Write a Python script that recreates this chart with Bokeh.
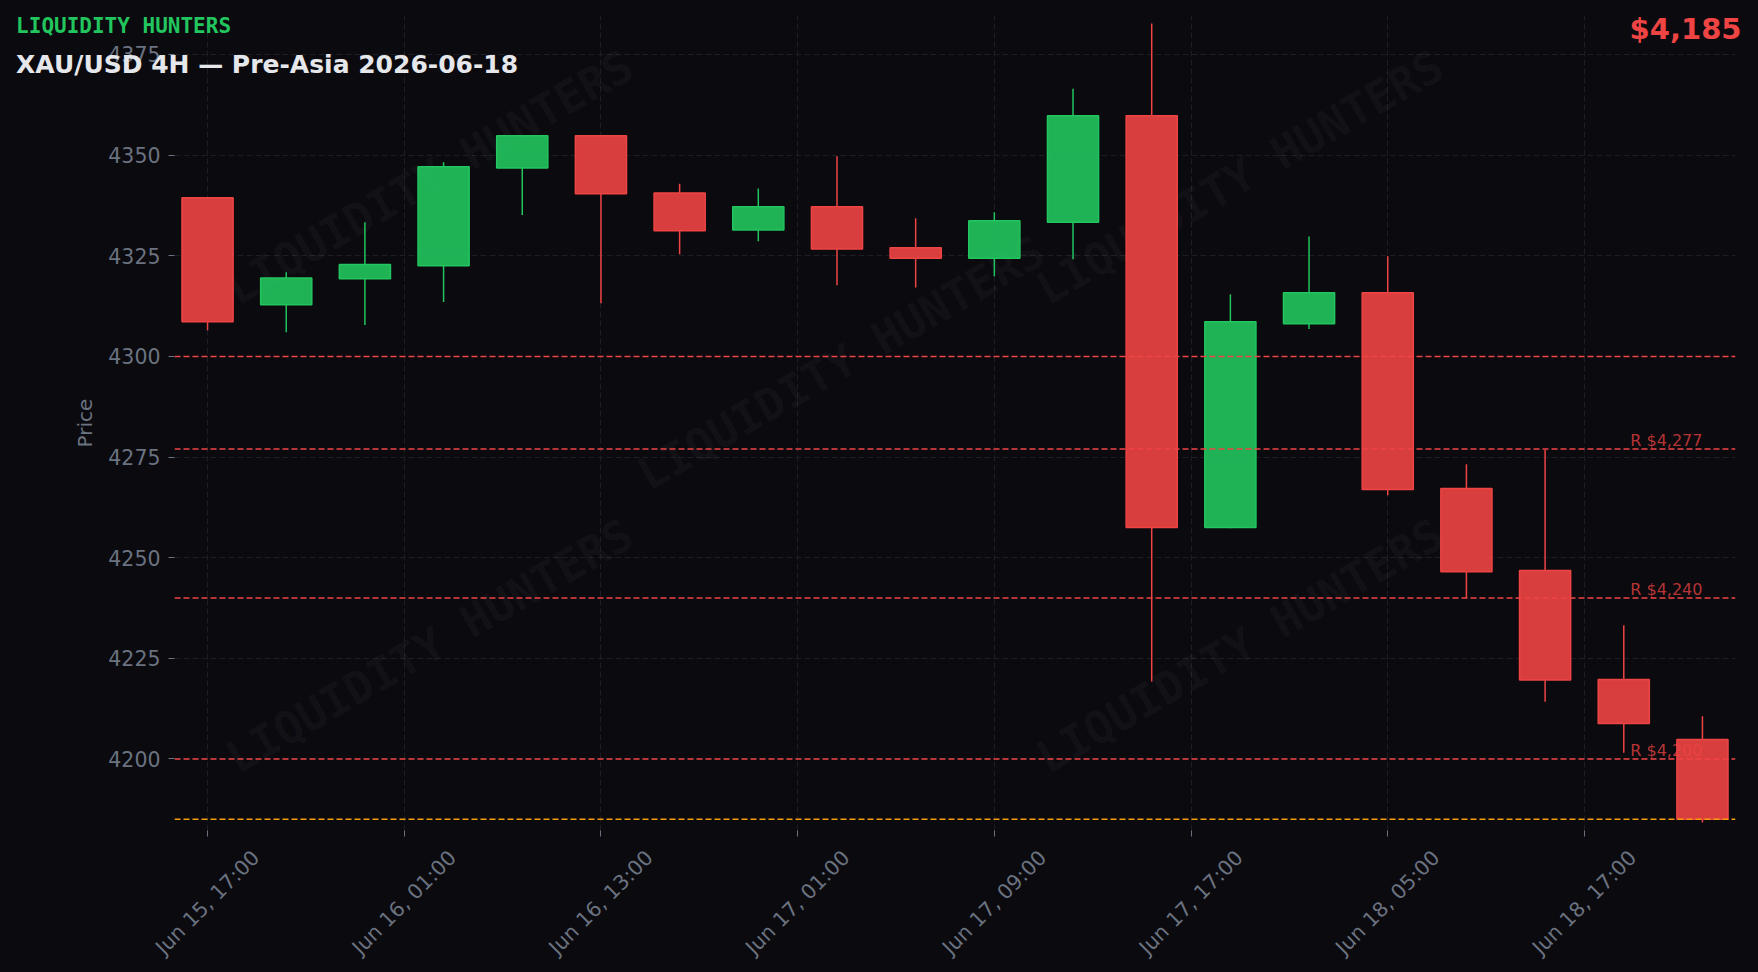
import math
from bokeh.plotting import figure
from bokeh.layouts import column
from bokeh.models import (ColumnDataSource, Range1d, Span, Label,
                          FixedTicker, SingleIntervalTicker)
from bokeh.embed import file_html
from bokeh.resources import INLINE

# ---------------- data ----------------
IDX = list(range(20))
OPEN = [4339.4, 4312.8, 4319.3, 4322.5, 4346.8, 4354.8, 4340.6, 4331.4, 4337.2, 4327.0,
        4324.4, 4333.3, 4359.8, 4257.5, 4308.1, 4315.8, 4267.2, 4246.8, 4219.7, 4204.8]
CLOSE = [4308.6, 4319.5, 4322.8, 4347.1, 4354.8, 4340.4, 4331.2, 4337.2, 4326.7, 4324.4,
         4333.7, 4359.8, 4257.5, 4308.6, 4315.8, 4266.9, 4246.5, 4219.6, 4208.8, 4185.0]
HIGH = [4339.5, 4320.9, 4333.3, 4348.2, 4354.9, 4354.9, 4342.9, 4341.7, 4349.7, 4334.3,
        4335.8, 4366.5, 4382.7, 4315.4, 4329.8, 4324.9, 4273.2, 4276.8, 4233.2, 4210.6]
LOW = [4306.5, 4306.0, 4307.8, 4313.5, 4335.1, 4313.2, 4325.4, 4328.6, 4317.7, 4317.1,
       4319.9, 4324.1, 4219.2, 4257.3, 4306.8, 4265.5, 4240.0, 4214.2, 4201.5, 4184.2]

TICK_POS = [0, 2.5, 5, 7.5, 10, 12.5, 15, 17.5]
TICK_LABELS = ["Jun 15, 17:00", "Jun 16, 01:00", "Jun 16, 13:00", "Jun 17, 01:00",
               "Jun 17, 09:00", "Jun 17, 17:00", "Jun 18, 05:00", "Jun 18, 17:00"]

ROUND_LEVELS = [4300]
RES_LEVELS = [4277, 4240, 4200]

BRAND = "LIQUIDITY HUNTERS"
TITLE = "XAU/USD 4H \u2014 Pre-Asia 2026-06-18"

# ---------------- styles / layout ----------------
W, H = 1758, 972
ML, MR, MT, MB = 174, 23, 15, 142
X0, X1 = -0.42, 19.42
BG = "#0a0a0f"
GREEN = "#22c55e"
RED = "#ef4444"
ORANGE = "#f59e0b"
GRAY = "#6b7280"
GRID = "#1d1d26"

top = [max(o, c) for o, c in zip(OPEN, CLOSE)]
bot = [min(o, c) for o, c in zip(OPEN, CLOSE)]
col = [GREEN if c >= o else RED for o, c in zip(OPEN, CLOSE)]
src = ColumnDataSource(dict(x=IDX, top=top, bot=bot, high=HIGH, low=LOW, color=col))

span_y = max(HIGH) - min(LOW)
ylo = min(LOW) - 0.01 * span_y
yhi = max(HIGH) + 0.01 * span_y

p = figure(width=W, height=H, output_backend="svg", toolbar_location=None,
           x_range=Range1d(X0, X1), y_range=Range1d(ylo, yhi),
           min_border_left=ML, min_border_right=MR, min_border_top=MT,
           min_border_bottom=MB)
p.background_fill_color = None
p.border_fill_color = None
p.outline_line_color = None

# grid
p.grid.grid_line_color = GRID
p.grid.grid_line_dash = "6 3"
p.grid.grid_line_width = 1

# y axis
p.yaxis.ticker = SingleIntervalTicker(interval=25, num_minor_ticks=0)
p.yaxis.axis_line_color = None
p.yaxis.major_tick_line_color = GRAY
p.yaxis.major_tick_out = 6
p.yaxis.major_tick_in = 0
p.yaxis.minor_tick_line_color = None
p.yaxis.major_label_text_font = "DejaVu Sans"
p.yaxis.major_label_text_font_size = "20.5px"
p.yaxis.major_label_text_color = GRAY
p.yaxis.major_label_standoff = 8
p.yaxis.axis_label = "Price"
p.yaxis.axis_label_text_font = "DejaVu Sans"
p.yaxis.axis_label_text_font_style = "normal"
p.yaxis.axis_label_text_font_size = "20px"
p.yaxis.axis_label_text_color = GRAY
p.yaxis.axis_label_standoff = 8

# x axis: tick marks only (labels drawn centred under the ticks on the overlay)
p.xaxis.ticker = FixedTicker(ticks=TICK_POS)
p.xaxis.major_label_overrides = {t: "" for t in TICK_POS}
p.xaxis.major_label_text_font_size = "0px"
p.xaxis.axis_line_color = None
p.xaxis.major_tick_line_color = GRAY
p.xaxis.major_tick_out = 6
p.xaxis.major_tick_in = 0
p.xaxis.minor_tick_line_color = None

# watermark
WM_POS = [(2.82, 4344.4), (13.12, 4344.4), (8.05, 4298.3), (2.82, 4228.0), (13.12, 4228.0)]
for wx, wy in WM_POS:
    p.add_layout(Label(x=wx, y=wy, text=BRAND, angle=math.pi / 6,
                       text_align="center", text_baseline="middle",
                       text_font="DejaVu Sans Mono", text_font_style="bold",
                       text_font_size="45px", text_color="white", text_alpha=0.045,
                       level="underlay"))

# candles
p.segment(x0="x", y0="high", x1="x", y1="top", source=src, line_color="color", line_width=1.5)
p.segment(x0="x", y0="bot", x1="x", y1="low", source=src, line_color="color", line_width=1.5)
p.vbar(x="x", width=0.65, top="top", bottom="bot", source=src,
       fill_color="color", fill_alpha=0.9, line_color="color", line_width=1.5)

# levels
for lvl in ROUND_LEVELS + RES_LEVELS:
    p.add_layout(Span(location=lvl, dimension="width", line_color=RED,
                      line_dash="6 3", line_width=1.5))
for lvl in RES_LEVELS:
    p.add_layout(Label(x=IDX[-1], y=lvl, text=f"R ${lvl:,}", text_align="right",
                       text_baseline="middle", y_offset=8,
                       text_font="DejaVu Sans", text_font_size="16px",
                       text_color=RED, text_alpha=0.75))
p.add_layout(Span(location=CLOSE[-1], dimension="width", line_color=ORANGE,
                  line_dash="6 3", line_width=1.5))

# ---------------- transparent overlay for texts outside the plot frame ----------------
ppu = (W - ML - MR) / (X1 - X0)
ov = figure(width=W, height=H, output_backend="svg", toolbar_location=None,
            x_range=Range1d(X0 - ML / ppu, X1 + MR / ppu), y_range=Range1d(0, 1),
            x_axis_type=None, y_axis_type=None, min_border=0,
            min_border_left=0, min_border_right=0, min_border_top=0, min_border_bottom=0)
ov.background_fill_color = None
ov.border_fill_color = None
ov.outline_line_color = None
ov.grid.visible = False
ov.margin = (-H, 0, 0, 0)
for fig in (p, ov):
    if "frame_align" in fig.properties():
        fig.frame_align = False

for tx, tl in zip(TICK_POS, TICK_LABELS):
    ov.add_layout(Label(x=tx, y=902, y_units="canvas", text=tl,
                        angle=math.pi / 4, text_align="center", text_baseline="middle",
                        text_font="DejaVu Sans", text_font_size="20.5px",
                        text_color=GRAY))

ov.add_layout(Label(x=15.6, y=25, x_units="canvas", y_units="canvas", text=BRAND,
                    text_font="DejaVu Sans Mono", text_font_style="bold",
                    text_font_size="21px", text_color=GREEN, text_baseline="middle"))
ov.add_layout(Label(x=15.6, y=64, x_units="canvas", y_units="canvas", text=TITLE,
                    text_font="DejaVu Sans", text_font_style="bold",
                    text_font_size="25px", text_color="#e5e7eb", text_baseline="middle"))
ov.add_layout(Label(x=1741, y=28.5, x_units="canvas", y_units="canvas",
                    text=f"${CLOSE[-1]:,.0f}", text_align="right",
                    text_font="DejaVu Sans", text_font_style="bold",
                    text_font_size="29px", text_color=RED, text_baseline="middle"))

layout = column(p, ov, spacing=0)

html = file_html(layout, INLINE)
css = f"<style>html, body {{ background: {BG} !important; overflow: hidden; }}</style>"
html = html.replace("</head>", css + "\n</head>", 1)
open("out.html", "w").write(html)
